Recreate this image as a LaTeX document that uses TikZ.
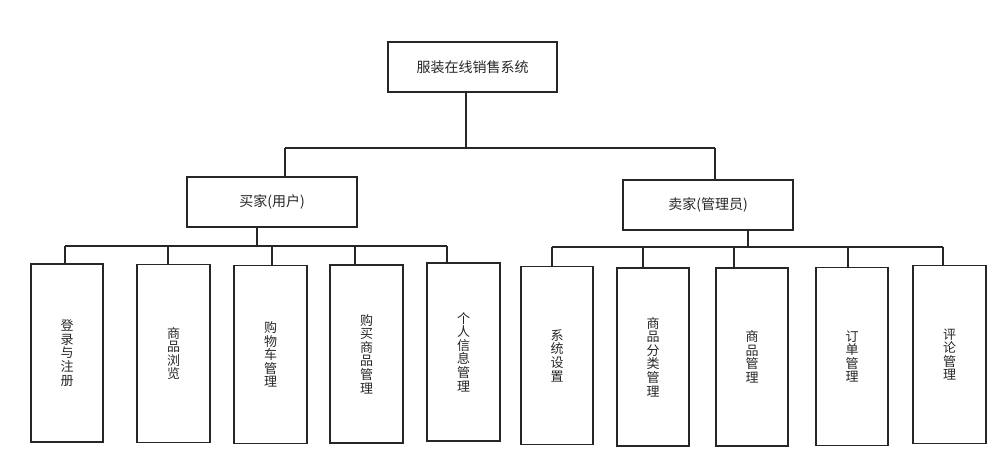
\documentclass[tikz,border=0pt]{standalone}
\usepackage{fontspec}
\setmainfont{Noto Sans CJK SC}
\begin{document}
\begin{tikzpicture}[x=1pt,y=-1pt,
  box/.style={draw=black!85,line width=1.4pt,inner sep=0pt,text=black!85,font=\fontsize{14}{16}\selectfont},
  leaf/.style={box,minimum width=72pt,minimum height=178pt,align=center,font=\fontsize{13}{13.6}\selectfont},
  conn/.style={draw=black!85,line width=1.2pt}]
\useasboundingbox (0,0) rectangle (1006,467);
\node[box,minimum width=169pt,minimum height=50pt] (root) at (472.5,67) {服装在线销售系统};
\node[box,minimum width=170pt,minimum height=50pt] (buyer) at (272,202) {买家(用户)};
\node[box,minimum width=170pt,minimum height=50pt] (seller) at (708,205) {卖家(管理员)};
% buyer leaves
\node[leaf] (c1) at (67,353) {登\\录\\与\\注\\册};
\node[leaf,minimum width=73pt] (c2) at (173.5,353.5) {商\\品\\浏\\览};
\node[leaf,minimum width=73pt] (c3) at (270.5,354.5) {购\\物\\车\\管\\理};
\node[leaf,minimum width=73pt] (c4) at (366.5,354) {购\\买\\商\\品\\管\\理};
\node[leaf,minimum width=73pt] (c5) at (463.5,352) {个\\人\\信\\息\\管\\理};
% seller leaves
\node[leaf] (d1) at (557,355.5) {系\\统\\设\\置};
\node[leaf] (d2) at (653,357) {商\\品\\分\\类\\管\\理};
\node[leaf] (d3) at (752,357) {商\\品\\管\\理};
\node[leaf] (d4) at (852,356.5) {订\\单\\管\\理};
\node[leaf,minimum width=73pt] (d5) at (949.5,354.5) {评\\论\\管\\理};
% bus coordinates
\coordinate (rj) at (466,148);
\coordinate (rb) at (285,148);
\coordinate (rs) at (715,148);
\coordinate (bj) at (257,246);
\coordinate (b1) at (65,246);
\coordinate (b2) at (168,246);
\coordinate (b3) at (272,246);
\coordinate (b4) at (355,246);
\coordinate (b5) at (447,246);
\coordinate (sj) at (748,247);
\coordinate (s1) at (552,247);
\coordinate (s2) at (643,247);
\coordinate (s3) at (734,247);
\coordinate (s4) at (848,247);
\coordinate (s5) at (943,247);
% connectors
\draw[conn] (rj |- root.south) -- (rj);
\draw[conn] (rb) -- (rs);
\draw[conn] (rb) -- (rb |- buyer.north);
\draw[conn] (rs) -- (rs |- seller.north);
\draw[conn] (bj |- buyer.south) -- (bj);
\draw[conn] (b1) -- (b5);
\foreach \i in {1,...,5}{\draw[conn] (b\i) -- (b\i |- c\i.north);}
\draw[conn] (sj |- seller.south) -- (sj);
\draw[conn] (s1) -- (s5);
\foreach \i in {1,...,5}{\draw[conn] (s\i) -- (s\i |- d\i.north);}
\end{tikzpicture}
\end{document}
